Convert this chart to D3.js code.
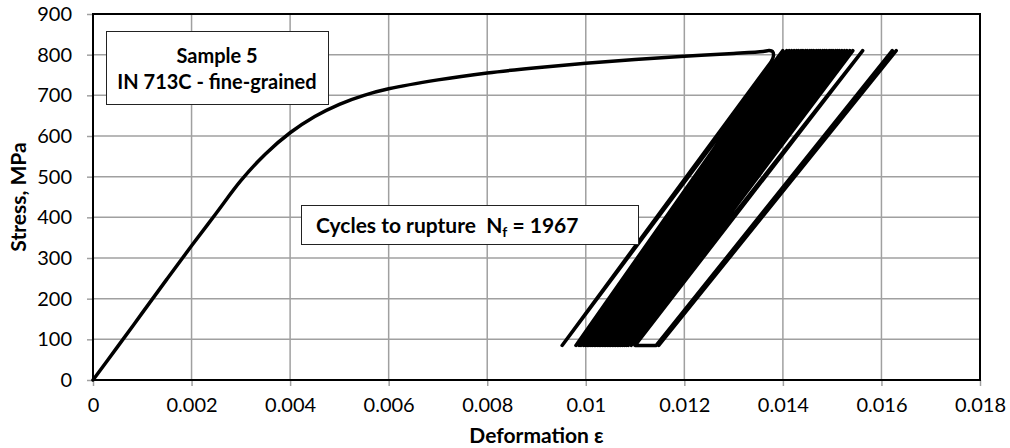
<!DOCTYPE html>
<html>
<head>
<meta charset="utf-8">
<script src="https://cdn.jsdelivr.net/npm/d3@7"></script>
<style>
  body { margin: 0; background: #fff; }
  svg text { font-family: Lato, "Open Sans", sans-serif; }
</style>
</head>
<body>
<div id="chart"></div>
<script>
// monotonic loading branch (strain, MPa)
const loadStrain = [0, 0.0005, 0.001, 0.0015, 0.002, 0.0025, 0.003, 0.0035, 0.004, 0.0045, 0.005, 0.0055,
  0.006, 0.007, 0.008, 0.009, 0.010, 0.011, 0.012, 0.013, 0.0136, 0.01372, 0.01379, 0.01381, 0.01377];
const loadStress = [0, 82, 165, 248, 330, 410, 490, 556, 608, 648, 678, 700,
  716, 738, 755, 768, 779, 788, 796, 803, 808, 810, 808, 798, 784];

// cyclic part: turning points (peak / valley)
const cycleStrain = [0.00952,
  0.01400, 0.00980, 0.01408, 0.00986, 0.01413, 0.00990, 0.01418, 0.00995, 0.01423, 0.00999,
  0.01428, 0.01003, 0.01432, 0.01006, 0.01437, 0.01010, 0.01441, 0.01013, 0.01446, 0.01017,
  0.01450, 0.01020, 0.01455, 0.01024, 0.01459, 0.01027, 0.01463, 0.01030, 0.01468, 0.01034,
  0.01472, 0.01037, 0.01476, 0.01040, 0.01481, 0.01044, 0.01485, 0.01047, 0.01489, 0.01050,
  0.01494, 0.01054, 0.01498, 0.01057, 0.01502, 0.01060, 0.01507, 0.01064, 0.01511, 0.01067,
  0.01515, 0.01070, 0.01520, 0.01074, 0.01525, 0.01078, 0.01530, 0.01082, 0.01536, 0.01086,
  0.01542, 0.01092, 0.01562, 0.01100, 0.01143, 0.01622, 0.01148, 0.01630];
const cycleStress = [85,
  810, 85, 810, 85, 810, 85, 810, 85, 810, 85,
  810, 85, 810, 85, 810, 85, 810, 85, 810, 85,
  810, 85, 810, 85, 810, 85, 810, 85, 810, 85,
  810, 85, 810, 85, 810, 85, 810, 85, 810, 85,
  810, 85, 810, 85, 810, 85, 810, 85, 810, 85,
  810, 85, 810, 85, 810, 85, 810, 85, 810, 85,
  810, 85, 810, 85, 85, 810, 85, 810];

const xTicks = [0, 0.002, 0.004, 0.006, 0.008, 0.01, 0.012, 0.014, 0.016, 0.018];
const yTicks = [0, 100, 200, 300, 400, 500, 600, 700, 800, 900];

const W = 1010, H = 448;
const plot = { left: 93, right: 980, top: 14, bottom: 380 };

const svg = d3.select("#chart").append("svg").attr("width", W).attr("height", H);

const x = d3.scaleLinear().domain([0, 0.018]).range([plot.left, plot.right]);
const y = d3.scaleLinear().domain([0, 900]).range([plot.bottom, plot.top]);

// grid
svg.append("g").selectAll("line").data(xTicks.slice(1, -1)).join("line")
  .attr("x1", d => x(d)).attr("x2", d => x(d))
  .attr("y1", plot.top).attr("y2", plot.bottom)
  .attr("stroke", "#a0a0a0").attr("stroke-width", 1.5);
svg.append("g").selectAll("line").data(yTicks.slice(1, -1)).join("line")
  .attr("x1", plot.left).attr("x2", plot.right)
  .attr("y1", d => y(d)).attr("y2", d => y(d))
  .attr("stroke", "#a0a0a0").attr("stroke-width", 1.5);

// axes
const xAxis = svg.append("g").attr("transform", `translate(0,${plot.bottom})`)
  .call(d3.axisBottom(x).tickValues(xTicks).tickFormat(d => d === 0 ? "0" : String(+d.toFixed(3))).tickSize(6).tickPadding(12));
const yAxis = svg.append("g").attr("transform", `translate(${plot.left},0)`)
  .call(d3.axisLeft(y).tickValues(yTicks).tickSize(6).tickPadding(15));
[xAxis, yAxis].forEach(g => {
  g.select(".domain").remove();
  g.selectAll(".tick line").attr("stroke", "#a0a0a0").attr("stroke-width", 1.5);
  g.selectAll(".tick text").attr("font-size", 20).attr("fill", "#000")
    .style("font-family", "Lato, 'Open Sans', sans-serif");
});

// plot frame
svg.append("rect")
  .attr("x", plot.left).attr("y", plot.top)
  .attr("width", plot.right - plot.left).attr("height", plot.bottom - plot.top)
  .attr("fill", "none").attr("stroke", "#000").attr("stroke-width", 2);

// curves
const loadData = loadStrain.map((e, i) => [e, loadStress[i]]);
const cycleData = [loadData[loadData.length - 1]].concat(cycleStrain.map((e, i) => [e, cycleStress[i]]));

svg.append("path").datum(loadData)
  .attr("d", d3.line().x(d => x(d[0])).y(d => y(d[1])).curve(d3.curveCatmullRom))
  .attr("fill", "none").attr("stroke", "#000").attr("stroke-width", 3.5)
  .attr("stroke-linejoin", "round").attr("stroke-linecap", "round");

svg.append("path").datum(cycleData)
  .attr("d", d3.line().x(d => x(d[0])).y(d => y(d[1])))
  .attr("fill", "none").attr("stroke", "#000").attr("stroke-width", 3.5)
  .attr("stroke-linejoin", "round").attr("stroke-linecap", "round");

// annotation boxes
svg.append("rect").attr("x", 106.5).attr("y", 31.5).attr("width", 222).attr("height", 73)
  .attr("fill", "#fff").attr("stroke", "#222").attr("stroke-width", 1);
svg.append("text").attr("x", 217).attr("y", 63).attr("text-anchor", "middle")
  .attr("font-size", 20).attr("font-weight", "bold").text("Sample 5");
svg.append("text").attr("x", 217).attr("y", 89).attr("text-anchor", "middle")
  .attr("font-size", 20).attr("font-weight", "bold").text("IN 713C - fine-grained");

svg.append("rect").attr("x", 301.5).attr("y", 205.5).attr("width", 337).attr("height", 39)
  .attr("fill", "#fff").attr("stroke", "#222").attr("stroke-width", 1);
const t2 = svg.append("text").attr("x", 316).attr("y", 232.5)
  .attr("font-size", 21).attr("font-weight", "bold").attr("xml:space", "preserve");
t2.append("tspan").text("Cycles to rupture  N");
t2.append("tspan").attr("font-size", 14).attr("dy", 4).text("f");
t2.append("tspan").attr("dy", -4).text(" = 1967");

// axis titles
svg.append("text").attr("x", (plot.left + plot.right) / 2).attr("y", 443)
  .attr("text-anchor", "middle").attr("font-size", 21).attr("font-weight", "bold").text("Deformation ε");
svg.append("text").attr("transform", `translate(26,${(plot.top + plot.bottom) / 2}) rotate(-90)`)
  .attr("text-anchor", "middle").attr("font-size", 21).attr("font-weight", "bold").text("Stress, MPa");
</script>
</body>
</html>
